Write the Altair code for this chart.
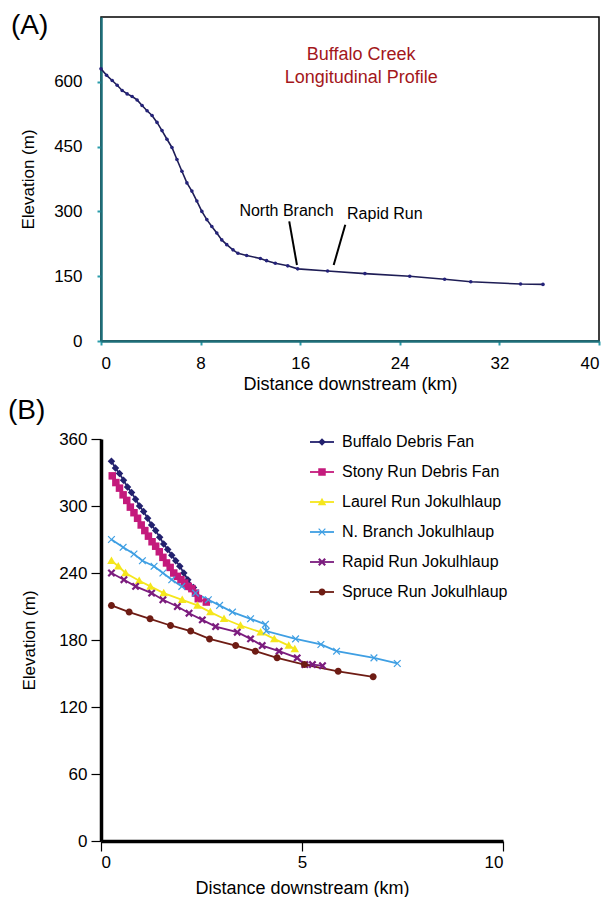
import math
import altair as alt
import pandas as pd

FONT = "Liberation Sans"

# ---------------- Panel A data ----------------
a_dist = [0, 0.45, 0.9, 1.3, 1.7, 2.1, 2.5, 2.9, 3.3, 3.7, 4.1, 4.5, 4.9, 5.3, 5.7,
          6.1, 6.5, 6.9, 7.3, 7.7, 8.1, 8.5, 8.9, 9.3, 9.7, 10.1, 10.6, 11.0, 11.7,
          12.8, 13.3, 14.0, 15.0, 15.8, 18.2, 21.2, 24.8, 27.6, 29.7, 33.7, 35.5]
a_elev = [630, 615, 603, 592, 580, 572, 566, 558, 545, 533, 522, 506, 487, 467, 448,
          420, 393, 366, 347, 324, 300, 281, 265, 250, 234, 223, 211, 203, 198,
          191, 186, 180, 174, 167, 162, 156, 150, 143, 137, 132, 131]

ann_text = ["North Branch", "Rapid Run"]
ann_x = [14.9, 22.8]
ann_y = [301, 294]
lead_x = [15.12, 19.62]
lead_y = [277, 269]
lead_x2 = [15.74, 18.69]
lead_y2 = [176, 176]

title_lines = ["Buffalo Creek", "Longitudinal Profile"]
title_x = [20.9, 20.9]
title_y = [662, 609]

# ---------------- Panel B data ----------------
series_names = ["Buffalo Debris Fan", "Stony Run Debris Fan", "Laurel Run Jokulhlaup",
                "N. Branch Jokulhlaup", "Rapid Run Jokulhlaup", "Spruce Run Jokulhlaup"]
series_colors = ["#23216e", "#c41a7c", "#f5e61c", "#3f9fe3", "#7b1c7e", "#6e1c14"]

buffalo_x = [0.26, 0.36, 0.46, 0.56, 0.66, 0.76, 0.86, 0.96, 1.06, 1.16, 1.26, 1.36,
             1.46, 1.56, 1.66, 1.76, 1.86, 1.96, 2.06, 2.16, 2.30]
buffalo_y = [340, 334, 329, 323, 317, 312, 306, 300, 295, 289, 283, 278,
             272, 266, 261, 256, 251, 246, 240, 234, 227]

stony_x = [0.28, 0.37, 0.46, 0.55, 0.64, 0.73, 0.82, 0.91, 1.00, 1.09, 1.18, 1.27, 1.36,
           1.45, 1.54, 1.63, 1.72, 1.81, 1.90, 1.99, 2.08, 2.17, 2.26, 2.35, 2.42, 2.62]
stony_y = [327, 321, 316, 310, 305, 299, 294, 289, 283, 278, 273, 268, 264,
           259, 254, 249, 245, 240, 237, 234, 231, 228, 226, 222, 217, 214]

laurel_x = [0.26, 0.43, 0.61, 0.95, 1.23, 1.56, 2.02, 2.40, 2.72, 3.06, 3.47, 3.97,
            4.31, 4.67, 4.82]
laurel_y = [251, 246, 240, 233, 228, 222, 216, 211, 205, 199, 193, 187, 181, 175, 172]

nbranch_x = [0.26, 0.55, 0.82, 1.03, 1.32, 1.54, 1.76, 2.01, 2.35, 2.67, 2.95, 3.27,
             3.72, 4.09, 4.11, 4.84, 5.47, 5.86, 6.79, 7.37]
nbranch_y = [270, 263, 257, 251, 246, 240, 234, 228, 222, 216, 211, 205,
             199, 194, 188, 181, 176, 170, 164, 159]

rapid_x = [0.26, 0.57, 0.86, 1.26, 1.54, 1.90, 2.19, 2.52, 2.85, 3.39, 3.72, 4.01,
           4.43, 4.88, 5.07, 5.26, 5.51]
rapid_y = [240, 234, 228, 222, 216, 210, 204, 198, 192, 187, 181, 175,
           170, 164, 158, 158, 157]

spruce_x = [0.26, 0.70, 1.22, 1.73, 2.23, 2.70, 3.35, 3.84, 4.38, 5.06, 5.90, 6.77]
spruce_y = [211, 205, 199, 193, 188, 181, 175, 170, 164, 158, 152, 147]

series_xy = [(buffalo_x, buffalo_y), (stony_x, stony_y), (laurel_x, laurel_y),
             (nbranch_x, nbranch_y), (rapid_x, rapid_y), (spruce_x, spruce_y)]


# ---------------- marker shapes (style) ----------------
def x_path(e, w):
    pts = [(w, -e), (w, -w), (e, -w), (e, w), (w, w), (w, e), (-w, e), (-w, w),
           (-e, w), (-e, -w), (-w, -w), (-w, -e)]
    r = [((x - y) / math.sqrt(2), (x + y) / math.sqrt(2)) for x, y in pts]
    return "M" + "L".join(f"{x:.3f},{y:.3f}" for x, y in r) + "Z"


shape_paths = [
    "M0,-0.75L0.75,0L0,0.75L-0.75,0Z",
    "M-0.75,-0.75H0.75V0.75H-0.75Z",
    "M0,-0.85L0.85,0.65L-0.85,0.65Z",
    x_path(0.95, 0.12),
    x_path(0.9, 0.22),
    "M0.7,0A0.7,0.7 0 1,1 -0.7,0A0.7,0.7 0 1,1 0.7,0Z",
]

# ---------------- Panel A ----------------
dfA = pd.DataFrame({"d": a_dist, "e": a_elev})
dfAnn = pd.DataFrame({"t": ann_text, "x": ann_x, "y": ann_y})
dfLead = pd.DataFrame({"x": lead_x, "y": lead_y, "x2": lead_x2, "y2": lead_y2})
dfTitle = pd.DataFrame({"t": title_lines, "x": title_x, "y": title_y})

teal_dom = "#1d6f7a"
teal_tick = "#2a9cab"

xA = alt.X("d:Q", scale=alt.Scale(domain=[0, 40], nice=False, zero=False),
           axis=alt.Axis(values=[0, 8, 16, 24, 32, 40], title="Distance downstream (km)",
                         domainColor=teal_dom, domainWidth=2.5, tickColor=teal_tick,
                         tickWidth=2, tickSize=4, labelPadding=10, titlePadding=4,
                         labelFontSize=17, titleFontSize=18, grid=False,
                         labelFont=FONT, titleFont=FONT, titleFontWeight="normal",
                         labelColor="black", titleColor="black"))
yA = alt.Y("e:Q", scale=alt.Scale(domain=[0, 750], nice=False, zero=True),
           axis=alt.Axis(values=[0, 150, 300, 450, 600], title="Elevation (m)",
                         domainColor=teal_dom, domainWidth=2.5, tickColor=teal_tick,
                         tickWidth=2, tickSize=4, labelPadding=15, titlePadding=16,
                         labelFontSize=17, titleFontSize=17, grid=False,
                         labelFont=FONT, titleFont=FONT, titleFontWeight="normal",
                         labelColor="black", titleColor="black"))

lineA = alt.Chart(dfA).mark_line(color="#1e1d55", strokeWidth=1.6).encode(x=xA, y=yA)
ptsA = alt.Chart(dfA).mark_circle(color="#25237a", size=13, opacity=1).encode(x="d:Q", y="e:Q")
leadA = alt.Chart(dfLead).mark_rule(color="black", strokeWidth=2).encode(
    x="x:Q", y="y:Q", x2="x2:Q", y2="y2:Q")
annA = alt.Chart(dfAnn).mark_text(font=FONT, fontSize=16, color="black").encode(
    x="x:Q", y="y:Q", text="t:N")
titA = alt.Chart(dfTitle).mark_text(font=FONT, fontSize=18, color="#a3171b").encode(
    x="x:Q", y="y:Q", text="t:N")
labA = alt.Chart(pd.DataFrame({"t": ["(A)"]})).mark_text(
    font=FONT, fontSize=28, align="left", baseline="middle", color="black").encode(
    x=alt.value(-90), y=alt.value(9), text="t:N")

panelA = alt.layer(lineA, ptsA, leadA, annA, titA, labA).properties(
    width=498, height=324,
    view=alt.ViewBackground(stroke="black", strokeWidth=1.5))

# ---------------- Panel B ----------------
rows = []
for name, (xs, ys) in zip(series_names, series_xy):
    for xv, yv in zip(xs, ys):
        rows.append({"series": name, "x": xv, "y": yv})
dfB = pd.DataFrame(rows)

xB = alt.X("x:Q", scale=alt.Scale(domain=[0, 10], nice=False),
           axis=alt.Axis(values=[0, 5, 10], title="Distance downstream (km)",
                         domainColor="black", domainWidth=3.5, tickColor="black",
                         tickWidth=1.2, tickSize=10, labelPadding=3, titlePadding=9,
                         labelFontSize=17, titleFontSize=18, grid=False,
                         labelFont=FONT, titleFont=FONT, titleFontWeight="normal",
                         labelColor="black", titleColor="black"))
yB = alt.Y("y:Q", scale=alt.Scale(domain=[0, 360], nice=False),
           axis=alt.Axis(values=[0, 60, 120, 180, 240, 300, 360], title="Elevation (m)",
                         domainColor="black", domainWidth=3.5, tickColor="black",
                         tickWidth=1.2, tickSize=10, labelPadding=4, titlePadding=20,
                         labelFontSize=17, titleFontSize=17, grid=False,
                         labelFont=FONT, titleFont=FONT, titleFontWeight="normal",
                         labelColor="black", titleColor="black"))

leg_common = dict(orient="none", legendX=213, legendY=-5, title=None, labelFontSize=16,
                  labelFont=FONT, symbolSize=100, rowPadding=14, labelOffset=12,
                  padding=0, labelColor="black", labelLimit=0)

lineB = alt.Chart(dfB).mark_line(strokeWidth=1.8).encode(
    x=xB, y=yB,
    color=alt.Color("series:N", sort=series_names,
                    scale=alt.Scale(domain=series_names, range=series_colors),
                    legend=alt.Legend(symbolType="M-2.4,0H2.4", symbolStrokeWidth=1.8,
                                      labelOpacity=0, **leg_common)),
    detail="series:N")
ptsB = alt.Chart(dfB).mark_point(filled=True, size=100, opacity=1).encode(
    x="x:Q", y="y:Q",
    color=alt.Color("series:N", sort=series_names,
                    scale=alt.Scale(domain=series_names, range=series_colors),
                    legend=alt.Legend(symbolOpacity=1, **leg_common)),
    shape=alt.Shape("series:N", sort=series_names,
                    scale=alt.Scale(domain=series_names, range=shape_paths),
                    legend=alt.Legend(symbolOpacity=1, **leg_common)))
labB = alt.Chart(pd.DataFrame({"t": ["(B)"]})).mark_text(
    font=FONT, fontSize=28, align="left", baseline="middle", color="black").encode(
    x=alt.value(-93), y=alt.value(-28), text="t:N")

panelB = alt.layer(lineB, ptsB, labB).resolve_scale(
    color="independent", shape="independent").resolve_legend(
    color="independent", shape="independent").properties(
    width=402, height=402,
    view=alt.ViewBackground(stroke=None))

chart = alt.vconcat(panelA, panelB, spacing=3).properties(
    padding={"left": 0, "top": 3, "right": 0, "bottom": 0}).resolve_scale(
    shape="independent", color="independent").resolve_legend(
    shape="independent", color="independent").configure(
    font=FONT).configure_view(strokeWidth=0)

chart.save("out.html", embed_options={"renderer": "svg", "actions": False})
